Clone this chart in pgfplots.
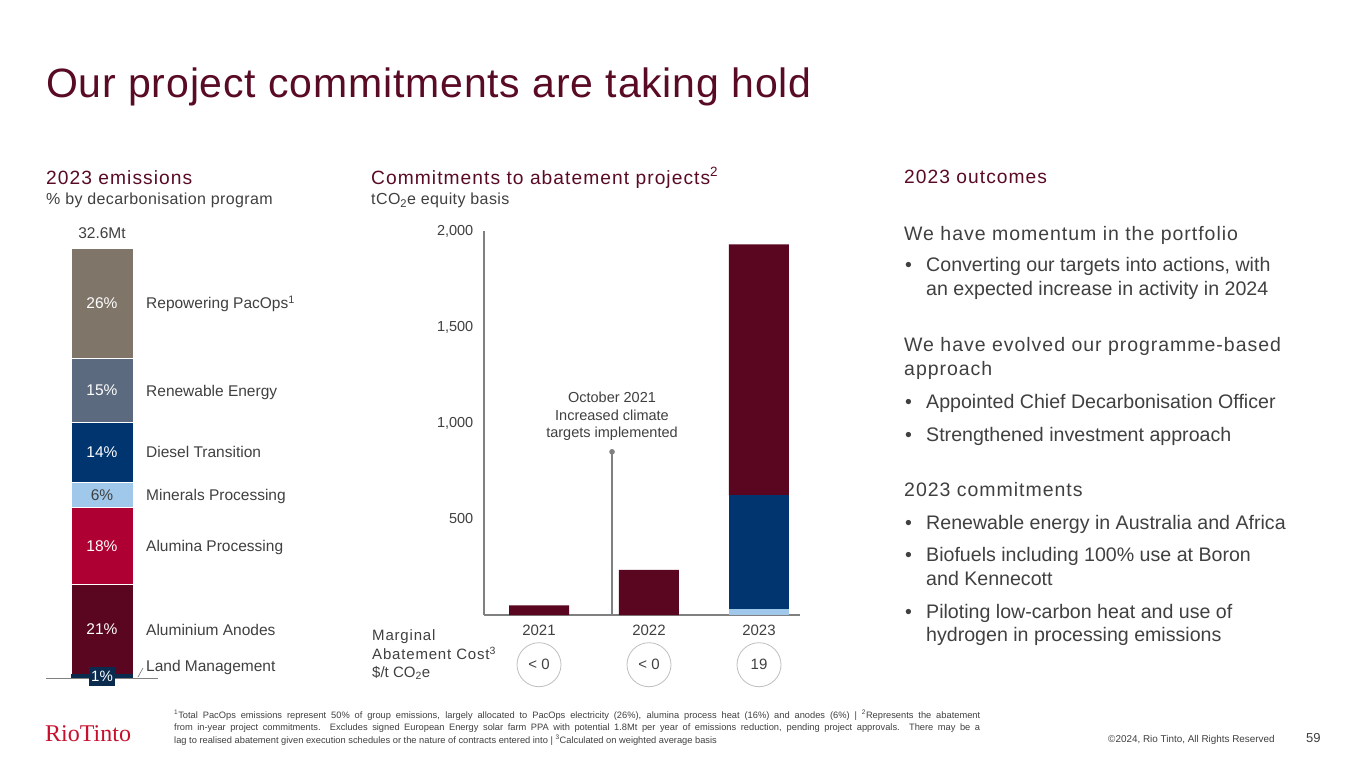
\documentclass[border=0pt]{standalone}
\usepackage{fontspec}
\setmainfont{Liberation Sans}
\newfontfamily\trk[LetterSpace=5.5]{Liberation Sans}
\newfontfamily\trkb[LetterSpace=5]{Liberation Sans}
\newfontfamily\trks[LetterSpace=2.5]{Liberation Sans}
\newfontfamily\ttl[LetterSpace=2]{Liberation Sans}
\newfontfamily\logo{Liberation Serif}
\usepackage{pgfplots}
\pgfplotsset{compat=1.18}

\definecolor{ttlred}{HTML}{5A0B24}
\definecolor{txt}{HTML}{404040}
\definecolor{maroon}{HTML}{5A0620}
\definecolor{crimson}{HTML}{AE0032}
\definecolor{lblue}{HTML}{A0C8EA}
\definecolor{navy}{HTML}{00356F}
\definecolor{slate}{HTML}{5B6A7E}
\definecolor{taupe}{HTML}{7F7569}
\definecolor{lnavy}{HTML}{0A2A4E}
\definecolor{axgray}{HTML}{808080}
\definecolor{cgray}{HTML}{BFBFBF}
\definecolor{rtred}{HTML}{C8102E}

\newcommand\fsz[1]{\fontsize{#1}{#1}\selectfont}
% text line: x, baseline y (pixels from top-left)
\newcommand\tx[4][]{\node[anchor=base west,inner sep=0pt,text=txt,#1] at (#2pt,-#3pt) {#4};}
\newcommand\cx[4][]{\node[anchor=base,inner sep=0pt,text=txt,#1] at (#2pt,-#3pt) {#4};}

\begin{document}
\begin{tikzpicture}
\path[use as bounding box, fill=white] (0,0) rectangle (1365pt,-768pt);

% title and headings
\tx[text=ttlred]{46}{97.5}{\ttl\fsz{41}Our project commitments are taking hold}
\tx[text=ttlred]{46}{184}{\trk\fsz{19.2}2023 emissions}
\tx{46}{204.5}{\trks\fsz{16}\% by decarbonisation program}
\tx[text=ttlred]{371}{184}{\trk\fsz{19.2}Commitments to abatement projects\textsuperscript{2}}
\tx{371}{204.5}{\trks\fsz{16}tCO\textsubscript{2}e equity basis}
\tx[text=ttlred]{904}{183.5}{\trk\fsz{19.2}2023 outcomes}

% left: 2023 emissions by programme (%)
\begin{axis}[
    at={(40pt,-678pt)}, anchor=south west,
    scale only axis, width=124pt, height=430pt,
    xmin=-1, xmax=1, ymin=0, ymax=101,
    enlargelimits=false, hide axis, clip=false,
    ybar stacked, bar width=62pt,
]
\addplot[fill=lnavy, draw=none] coordinates {(0,1)};
\addplot[fill=maroon, draw=white, line width=0.5pt] coordinates {(0,21)};
\addplot[fill=crimson, draw=white, line width=0.5pt] coordinates {(0,18)};
\addplot[fill=lblue, draw=white, line width=0.5pt] coordinates {(0,6)};
\addplot[fill=navy, draw=white, line width=0.5pt] coordinates {(0,14)};
\addplot[fill=slate, draw=white, line width=0.5pt] coordinates {(0,15)};
\addplot[fill=taupe, draw=white, line width=0.5pt] coordinates {(0,26)};
\end{axis}
% segment labels at the stacked midpoints
\foreach \m/\l/\c in {11.5/21/white, 31/18/white, 43/6/txt, 53/14/white, 67.5/15/white, 88/26/white}
  \node[text=\c, font=\fsz{15.5}] at (102pt,{-678pt+\m*4.2574pt}) {\l\%};
\draw[axgray, line width=0.8pt] (46pt,-678pt) -- (158pt,-678pt);
\fill[lnavy] (89pt,-667pt) rectangle (115pt,-686pt);
\node[text=white, font=\fsz{15}] at (102pt,-676.5pt) {1\%};
\draw[axgray, line width=0.7pt] (138pt,-677pt) -- (143pt,-668pt);
\cx{102}{238.5}{\fsz{15.5}32.6Mt}
\tx{146}{308.5}{\fsz{15.5}Repowering PacOps\textsuperscript{1}}
\tx{146}{396.5}{\fsz{15.5}Renewable Energy}
\tx{146}{457.5}{\fsz{15.5}Diesel Transition}
\tx{146}{500.5}{\fsz{15.5}Minerals Processing}
\tx{146}{551.5}{\fsz{15.5}Alumina Processing}
\tx{146}{635.5}{\fsz{15.5}Aluminium Anodes}
\tx{146}{671.5}{\fsz{15.5}Land Management}

% middle: commitments to abatement projects
\begin{axis}[
    at={(484pt,-615pt)}, anchor=south west,
    scale only axis, width=316pt, height=384pt,
    xmin=-0.5, xmax=2.373, ymin=0, ymax=2000,
    enlargelimits=false, clip=false,
    axis x line*=bottom, axis y line*=left,
    axis line style={draw=axgray, line width=1.2pt},
    major tick length=0pt, tick style={draw=none},
    ytick={500,1000,1500,2000},
    xtick={0,1,2}, xticklabels={2021,2022,2023},
    /pgf/number format/assume math mode=true,
    /pgf/number format/1000 sep={,},
    yticklabel style={anchor=east, inner sep=0pt, xshift=-10.5pt, font=\fsz{14.5}, text=txt},
    xticklabel style={anchor=base, inner sep=0pt, yshift=-20pt, font=\fsz{15}, text=txt},
    ybar stacked, bar width=60pt,
]
\addplot[fill=lblue, draw=none] coordinates {(0,0) (1,0) (2,30)};
\addplot[fill=navy, draw=none] coordinates {(0,0) (1,0) (2,593)};
\addplot[fill=maroon, draw=none] coordinates {(0,50) (1,235) (2,1307)};
\draw[axgray, line width=1.3pt] (axis cs:0.664,0) -- (axis cs:0.664,850);
\fill[axgray] (axis cs:0.664,850) circle (2.8pt);
\end{axis}
\cx{612}{402.5}{\fsz{14.5}October 2021}
\cx{612}{420}{\fsz{14.5}Increased climate}
\cx{612}{437.5}{\fsz{14.5}targets implemented}
\tx{372}{640.7}{\trk\fsz{15}Marginal}
\tx{372}{659.3}{\trk\fsz{15}Abatement Cost\textsuperscript{3}}
\tx{372}{677.3}{\fsz{15}\$/t CO\textsubscript{2}e}
\foreach \x/\l in {539/{< 0}, 649/{< 0}, 759/19}
  \node[circle, draw=cgray, line width=0.8pt, minimum size=44pt, inner sep=0pt,
        text=txt, font=\fsz{15}] at (\x pt,-664.7pt) {\l};

% right: 2023 outcomes
\tx{904}{240}{\trkb\fsz{19.5}We have momentum in the portfolio}
\tx{905}{271.5}{\fsz{19.5}•}
\tx{926}{271.5}{\fsz{19.6}Converting our targets into actions, with}
\tx{926}{295}{\fsz{19.6}an expected increase in activity in 2024}
\tx{904}{351.5}{\trkb\fsz{19.5}We have evolved our programme-based}
\tx{904}{375}{\trkb\fsz{19.5}approach}
\tx{905}{408}{\fsz{19.5}•}
\tx{926}{408}{\fsz{19.6}Appointed Chief Decarbonisation Officer}
\tx{905}{441}{\fsz{19.5}•}
\tx{926}{441}{\fsz{19.6}Strengthened investment approach}
\tx{904}{496.5}{\trkb\fsz{19.5}2023 commitments}
\tx{905}{529}{\fsz{19.5}•}
\tx{926}{529}{\fsz{19.6}Renewable energy in Australia and Africa}
\tx{905}{561.5}{\fsz{19.5}•}
\tx{926}{561.5}{\fsz{19.6}Biofuels including 100\% use at Boron}
\tx{926}{585.5}{\fsz{19.6}and Kennecott}
\tx{905}{618}{\fsz{19.5}•}
\tx{926}{618}{\fsz{19.6}Piloting low-carbon heat and use of}
\tx{926}{641.5}{\fsz{19.6}hydrogen in processing emissions}

% footer
\tx[text=rtred]{45}{741.7}{\logo\fsz{24}RioTinto}
\node[anchor=base west, inner sep=0pt, text=txt] at (174pt,-718.5pt) {\parbox[t]{806pt}{\fontsize{9.3}{12.3}\selectfont
\textsuperscript{1}Total PacOps emissions represent 50\% of group emissions, largely allocated to PacOps electricity (26\%), alumina process heat (16\%) and anodes (6\%) | \textsuperscript{2}Represents the abatement\linebreak
from in-year project commitments. Excludes signed European Energy solar farm PPA with potential 1.8Mt per year of emissions reduction, pending project approvals. There may be a\linebreak
lag to realised abatement given execution schedules or the nature of contracts entered into | \textsuperscript{3}Calculated on weighted average basis}};
\tx{1108}{742.5}{\fsz{9.9}©2024, Rio Tinto, All Rights Reserved}
\tx{1306}{742}{\fsz{13}59}
\end{tikzpicture}
\end{document}
